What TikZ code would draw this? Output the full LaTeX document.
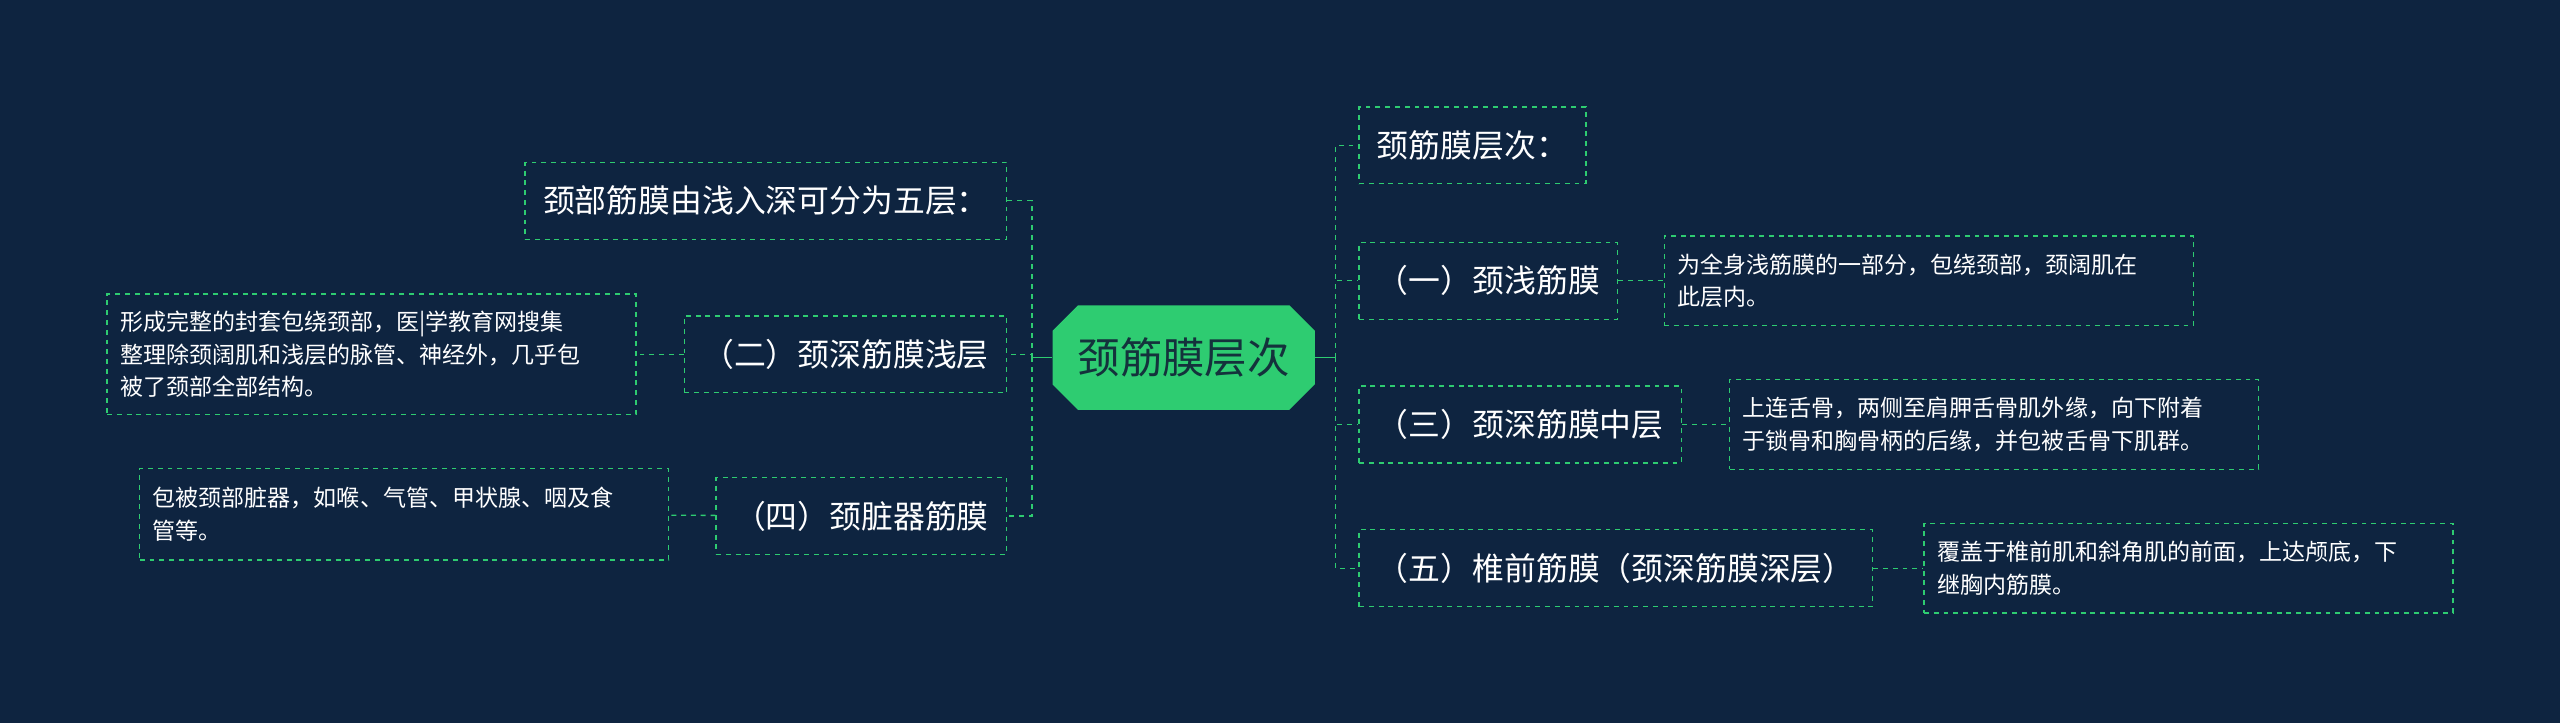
\documentclass[tikz,border=0pt]{standalone}
\usepackage{fontspec}
\setmainfont{Noto Sans CJK SC}
\usetikzlibrary{positioning, shapes.misc}
\definecolor{bgnavy}{RGB}{14,36,64}
\definecolor{mapgreen}{RGB}{46,204,113}
\definecolor{darktext}{RGB}{20,50,60}

\begin{document}
\begin{tikzpicture}[x=1pt,y=-1pt,
		topic/.style={draw=mapgreen, dashed, thick, text=white, font=\fontsize{19.5}{23}\selectfont, minimum height=47pt, inner xsep=11pt},
		leaf/.style={draw=mapgreen, dashed, thick, text=white, font=\fontsize{14.1}{20}\selectfont, align=left, text width=308pt, inner xsep=8pt, inner ysep=6pt},
		link/.style={draw=mapgreen, dashed, thick}]

		%% Background
		\fill[bgnavy] (0,0) rectangle (1568,443);
		\useasboundingbox (0,0) rectangle (1568,443);

		%% Centre
		\node (root) at (725,219) [chamfered rectangle, chamfered rectangle xsep=12pt, fill=mapgreen, minimum width=155pt, minimum height=64pt, text=darktext, font=\fontsize{26}{29}\selectfont] {颈筋膜层次};

		% Left topics
		\begin{scope}
			\node (five_layers) at (617,123) [topic, anchor=east] {颈部筋膜由浅入深可分为五层：};
			\node (deep_superficial) at (617,217) [topic, anchor=east] {（二）颈深筋膜浅层};
			\node (visceral) at (617,316) [topic, anchor=east] {（四）颈脏器筋膜};
		\end{scope}

		% Left leaves
		\begin{scope}
			\node (deep_superficial_note) at (390,217) [leaf, anchor=east, minimum height=74pt] {形成完整的封套包绕颈部，医|学教育网搜集\\整理除颈阔肌和浅层的脉管、神经外，几乎包\\被了颈部全部结构。};
			\node (visceral_note) at (410,315) [leaf, anchor=east, minimum height=56pt] {包被颈部脏器，如喉、气管、甲状腺、咽及食\\管等。};
		\end{scope}

		% Right topics
		\begin{scope}
			\node (levels) at (832,89) [topic, anchor=west] {颈筋膜层次：};
			\node (superficial) at (832,172) [topic, anchor=west] {（一）颈浅筋膜};
			\node (deep_middle) at (832,260) [topic, anchor=west] {（三）颈深筋膜中层};
			\node (prevertebral) at (832,348) [topic, anchor=west] {（五）椎前筋膜（颈深筋膜深层）};
		\end{scope}

		% Right leaves
		\begin{scope}
			\node (superficial_note) at (1019,172) [leaf, anchor=west, minimum height=55pt] {为全身浅筋膜的一部分，包绕颈部，颈阔肌在\\此层内。};
			\node (deep_middle_note) at (1059,260) [leaf, anchor=west, minimum height=55pt] {上连舌骨，两侧至肩胛舌骨肌外缘，向下附着\\于锁骨和胸骨柄的后缘，并包被舌骨下肌群。};
			\node (prevertebral_note) at (1178,348) [leaf, anchor=west, minimum height=55pt] {覆盖于椎前肌和斜角肌的前面，上达颅底，下\\继胸内筋膜。};
		\end{scope}

		%% Edges
		\draw[mapgreen, thick] (root.west) -- (632,219);
		\draw[mapgreen, thick] (root.east) -- (818,219);
		\foreach \n in {five_layers, deep_superficial, visceral}
			\draw[link] (632,219) |- (\n.east);
		\foreach \n in {levels, superficial, deep_middle, prevertebral}
			\draw[link] (818,219) |- (\n.west);

		\draw[link] (deep_superficial) -- (deep_superficial_note);
		\draw[link] (visceral) -- (visceral_note);
		\draw[link] (superficial) -- (superficial_note);
		\draw[link] (deep_middle) -- (deep_middle_note);
		\draw[link] (prevertebral) -- (prevertebral_note);
	\end{tikzpicture}
\end{document}
